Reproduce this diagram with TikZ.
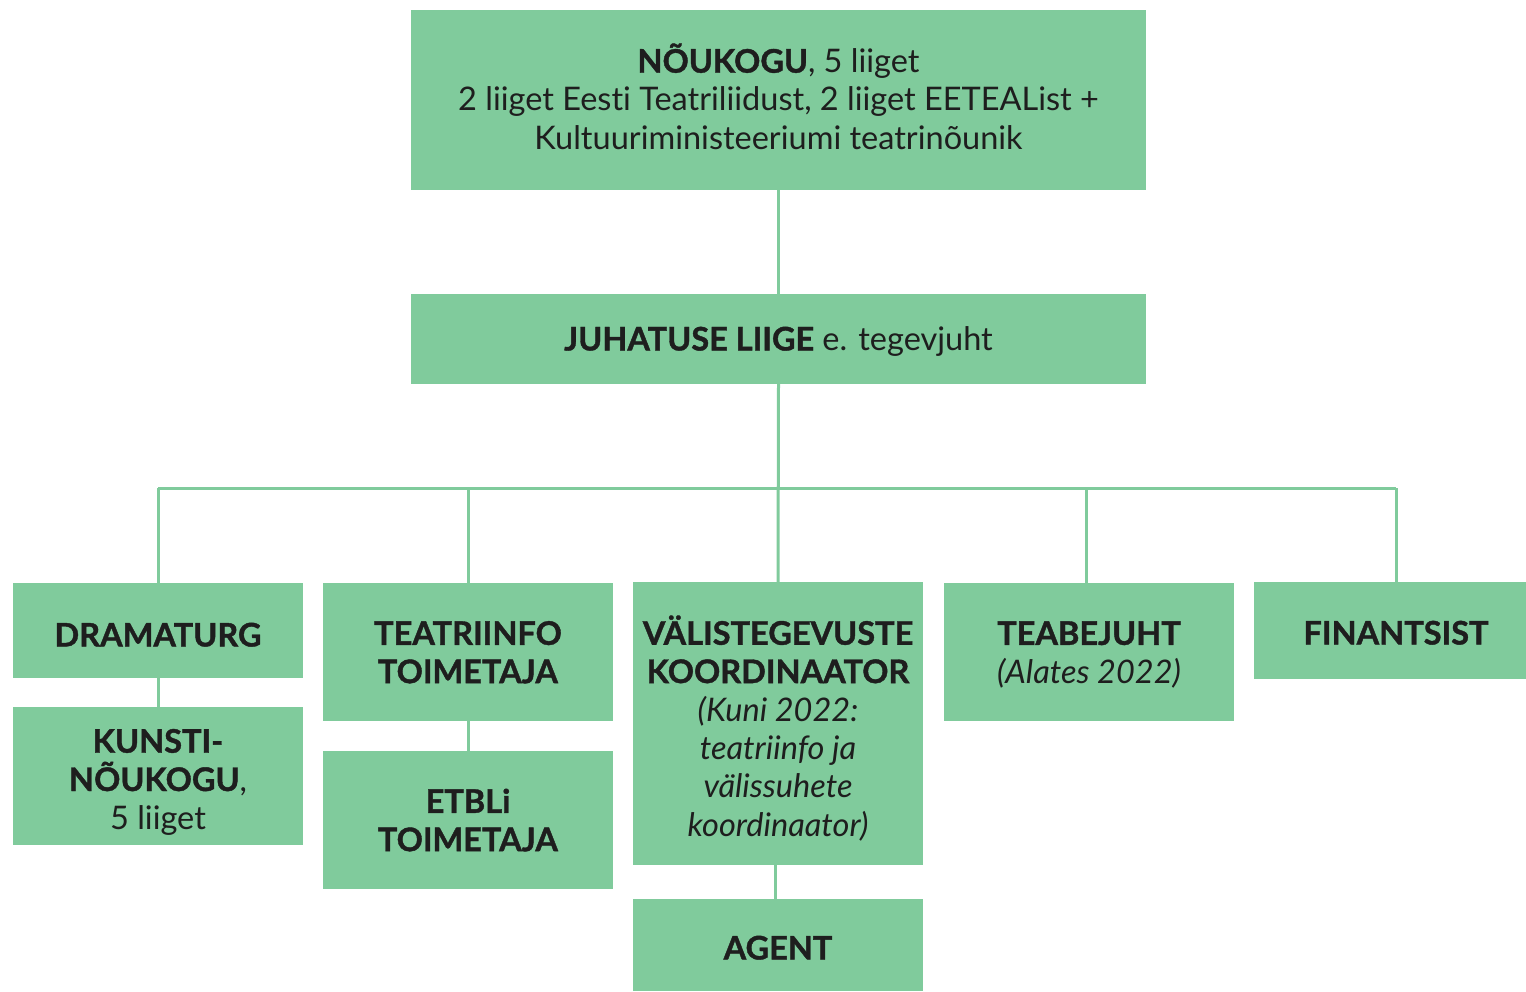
\documentclass[tikz,border=0pt]{standalone}
\usepackage{fontspec}
\setmainfont{Lato}[Ligatures={TeX,NoCommon},BoldFeatures={FakeBold=1.2}]
\definecolor{boxgreen}{HTML}{80CB9C}
\definecolor{txt}{HTML}{1E1E1E}
\newcommand\fst[1]{\rule{0pt}{#1pt}}
\newcommand\lst{\rule[-10pt]{0pt}{10pt}}
\begin{document}
\begin{tikzpicture}[x=1pt,y=-1pt,
  box/.style={rectangle, fill=boxgreen, draw=none, inner sep=0pt, align=center,
    text=txt, font=\fontsize{32.5}{38.3}\selectfont},
  link/.style={draw=boxgreen, line width=3pt}]
\useasboundingbox (0,0) rectangle (1526,992);
\begin{scope}
\clip (0,0) rectangle (1526,992);
\node[box, minimum width=735pt, minimum height=180pt] (nou) at (778.5,100)
  {\fst{32}\textbf{NÕUKOGU}, 5 liiget\\2 liiget Eesti Teatriliidust, 2 liiget EETEAList +\\Kultuuriministeeriumi teatrinõunik\lst};
\node[box, minimum width=735pt, minimum height=90pt] (juh) at (778.5,339)
  {\fst{33}\textbf{JUHATUSE LIIGE} e. tegevjuht\lst};
\node[box, minimum width=290pt, minimum height=95pt] (dram) at (158,630.5) {\fst{42}\textbf{DRAMATURG}\lst};
\node[box, minimum width=290pt, minimum height=138pt] (kun) at (158,776) {\fst{40}\textbf{KUNSTI-}\\\textbf{NÕUKOGU},\\5 liiget\lst};
\node[box, minimum width=290pt, minimum height=138pt] (tea) at (468,652) {\fst{34}\textbf{TEATRIINFO}\\\textbf{TOIMETAJA}\lst};
\node[box, minimum width=290pt, minimum height=138pt] (etb) at (468,820) {\fst{34}\textbf{ETBLi}\\\textbf{TOIMETAJA}\lst};
\node[box, minimum width=290pt, minimum height=283pt] (val) at (778,723.5) {\fst{44}\textbf{VÄLISTEGEVUSTE}\\\textbf{KOORDINAATOR}\\\textit{(Kuni 2022:}\\\textit{teatriinfo ja}\\\textit{välissuhete}\\\textit{koordinaator)}\lst};
\node[box, minimum width=290pt, minimum height=92pt] (agent) at (778,945) {\fst{39}\textbf{AGENT}\lst};
\node[box, minimum width=290pt, minimum height=138pt] (teab) at (1089,652) {\fst{34}\textbf{TEABEJUHT}\\\textit{(Alates 2022)}\lst};
\node[box, minimum width=284pt, minimum height=97pt] (fin) at (1396,630.5) {\fst{38}\textbf{FINANTSIST}\lst};
\end{scope}
\coordinate (bus) at (778,488);
\coordinate (busL) at (158,488);
\coordinate (busR) at (1396,488);
\draw[link] (nou.south) -- (juh.north);
\draw[link] (juh.south) -- (val.north);
\draw[link] (busL) -- (busR);
\draw[link] (dram.north) -- (busL);
\draw[link] (tea.north) -- (tea.north |- bus);
\draw[link] ([xshift=-3pt]teab.north) -- ([xshift=-3pt]teab.north |- bus);
\draw[link] (fin.north) -- (busR);
\draw[link] (dram.south) -- (kun.north);
\draw[link] (tea.south) -- (etb.north);
\draw[link] ([xshift=-3pt]val.south) -- ([xshift=-3pt]agent.north);
\end{tikzpicture}
\end{document}
